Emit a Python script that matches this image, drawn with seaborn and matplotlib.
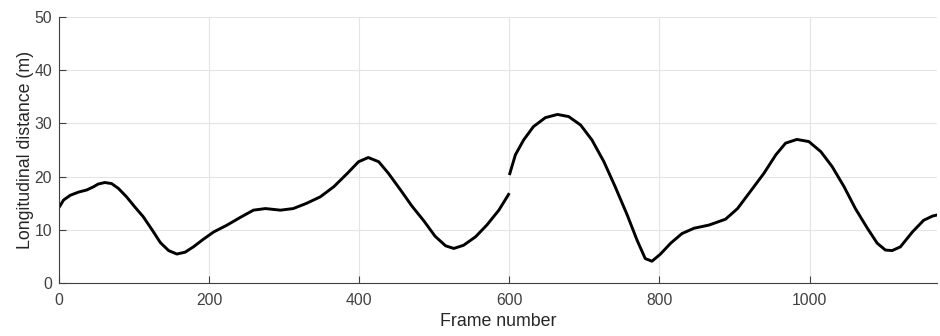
import matplotlib
matplotlib.use("Agg")
import matplotlib.pyplot as plt
import seaborn as sns
import pandas as pd

# Segment 1 (frames 0-600)
frames_a = [0, 6, 15, 26, 37, 46, 52, 61, 70, 79, 90, 101, 112, 124, 135, 146, 157,
            168, 179, 192, 206, 224, 241, 259, 275, 295, 312, 330, 348, 366, 384,
            399, 412, 426, 439, 455, 470, 486, 501, 515, 526, 539, 555, 570, 586, 600]
dist_a = [14.2, 15.6, 16.5, 17.1, 17.5, 18.1, 18.6, 18.9, 18.7, 17.8, 16.2, 14.3,
          12.5, 10.0, 7.6, 6.1, 5.45, 5.8, 6.8, 8.2, 9.6, 10.9, 12.3, 13.7, 14.0,
          13.7, 14.0, 15.0, 16.2, 18.1, 20.6, 22.8, 23.6, 22.8, 20.6, 17.5, 14.5,
          11.7, 8.8, 7.0, 6.5, 7.1, 8.7, 10.9, 13.7, 16.9]

# Segment 2 (frames 600-1170)
frames_b = [600, 608, 619, 632, 648, 664, 679, 695, 710, 726, 741, 757, 770, 781, 790,
            801, 815, 830, 846, 866, 888, 904, 921, 939, 955, 968, 983, 999, 1015,
            1030, 1046, 1061, 1077, 1090, 1101, 1110, 1121, 1137, 1152, 1164, 1170]
dist_b = [20.3, 24.1, 26.9, 29.4, 31.1, 31.7, 31.3, 29.7, 26.9, 22.8, 18.1, 12.8,
          8.1, 4.6, 4.1, 5.4, 7.5, 9.3, 10.3, 10.9, 12.0, 14.0, 17.2, 20.6, 24.1,
          26.3, 27.0, 26.6, 24.7, 21.9, 18.1, 14.0, 10.3, 7.5, 6.2, 6.1, 6.8, 9.6,
          11.8, 12.6, 12.8]

x_ticks = [0, 200, 400, 600, 800, 1000]
y_ticks = [0, 10, 20, 30, 40, 50]

df = pd.concat([
    pd.DataFrame({"frame": frames_a, "dist": dist_a, "seg": "a"}),
    pd.DataFrame({"frame": frames_b, "dist": dist_b, "seg": "b"}),
], ignore_index=True)

sns.set_style("ticks")
plt.rcParams["font.family"] = ["Liberation Sans", "DejaVu Sans"]

fig = plt.figure(figsize=(9.4, 3.36), dpi=100)
ax = fig.add_axes([0.0628, 0.1577, 0.9342, 0.7913])

line_kw = dict(solid_joinstyle="round", solid_capstyle="butt")
sns.lineplot(data=df, x="frame", y="dist", units="seg", estimator=None,
             color="black", linewidth=2.1, ax=ax, sort=False, **line_kw)

ax.set_xlim(0, 1170)
ax.set_ylim(0, 50)
ax.set_xticks(x_ticks)
ax.set_yticks(y_ticks)
ax.grid(True, color="#e4e4e4", linewidth=0.8)
ax.set_axisbelow(True)
for s in ["top", "right"]:
    ax.spines[s].set_visible(False)
for s in ["left", "bottom"]:
    ax.spines[s].set_color("#404040")
    ax.spines[s].set_linewidth(0.8)
ax.tick_params(direction="in", length=5, width=0.8, colors="#404040",
               labelsize=11.3, labelcolor="#404040")
ax.tick_params(axis="x", pad=7)
ax.tick_params(axis="y", pad=5)
ax.set_xlabel("Frame number", fontsize=12.8, color="#262626", labelpad=4)
ax.set_ylabel("Longitudinal distance (m)", fontsize=12.8, color="#262626", labelpad=0)

fig.savefig("out.png", dpi=100)
